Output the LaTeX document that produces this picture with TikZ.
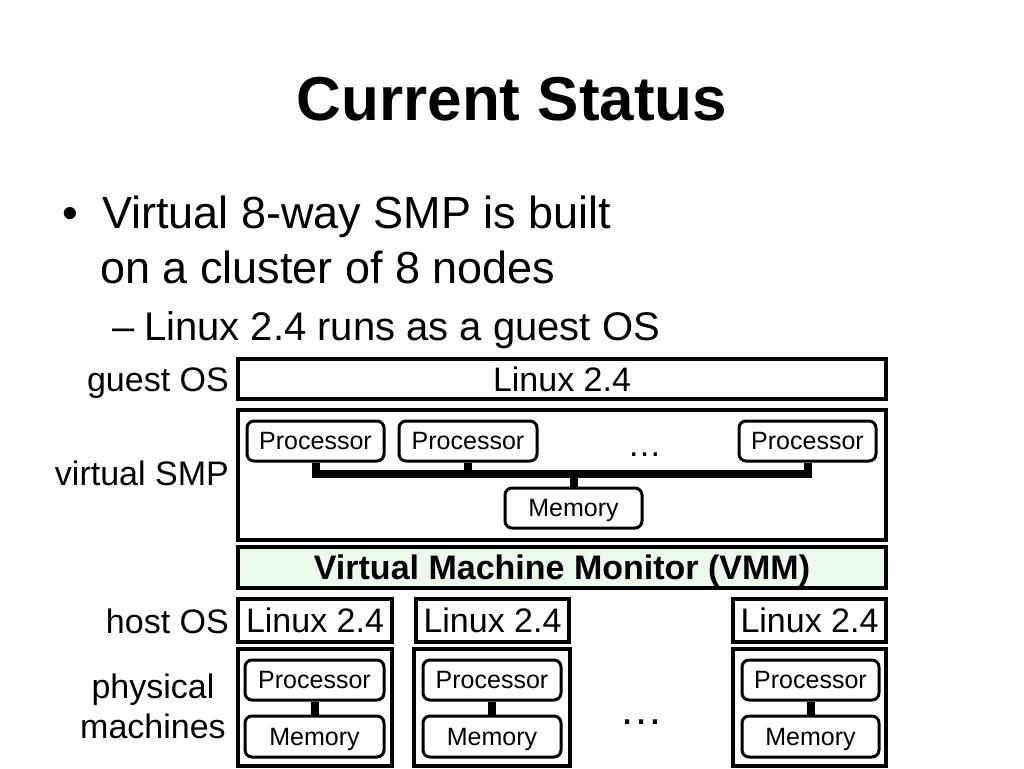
\documentclass[tikz,border=0pt]{standalone}
\usepackage{fontspec}
\setmainfont{Liberation Sans}
\definecolor{vmmgreen}{RGB}{236,250,236}
\begin{document}
\begin{tikzpicture}[x=1pt,y=-1pt,
  box/.style={draw=black, line width=3.5pt, inner sep=0pt, text height=24.3pt, text depth=0pt, font=\fontsize{34}{40}\selectfont},
  rbox/.style={draw=black, line width=3pt, rounded corners=7pt, inner sep=0pt, minimum height=40pt, text height=17.9pt, text depth=0pt, font=\fontsize{25}{30}\selectfont},
  bus/.style={line width=8pt, line cap=butt, line join=miter},
  side/.style={anchor=base east, inner sep=0pt, font=\fontsize{34}{40}\selectfont},
  sidec/.style={anchor=base, inner sep=0pt, font=\fontsize{34}{40}\selectfont},
  body/.style={anchor=base west, inner sep=0pt, font=\fontsize{45}{54}\selectfont},
  sub/.style={anchor=base west, inner sep=0pt, font=\fontsize{40}{48}\selectfont}
]
\fill[white] (0,0) rectangle (1024,768);
\useasboundingbox (0,0) rectangle (1024,768);

% title and bullets
\node[anchor=base, inner sep=0pt, font=\bfseries\fontsize{62}{70}\selectfont] (title) at (512,120) {Current Status};
\node[body] (bul) at (62,228) {•};
\node[body] (l1) at (102,228) {Virtual 8-way SMP is built};
\node[body] (l2) at (100,283) {on a cluster of 8 nodes};
\node[sub] (dash) at (112,340) {–};
\node[sub] (l3) at (144,340) {Linux 2.4 runs as a guest OS};

% side labels
\node[side] (lguest) at (229,391) {guest OS};
\node[side] (lsmp) at (229,485) {virtual SMP};
\node[side] (lhost) at (229,633) {host OS};
\node[sidec] (lphys1) at (153,698) {physical};
\node[sidec] (lphys2) at (153,738) {machines};

% guest OS
\node[box, minimum width=648, minimum height=40] (guest) at (562,379) {Linux 2.4};

% virtual SMP
\node[box, minimum width=648, minimum height=130] (smp) at (562,475) {};
\node[rbox, minimum width=137] (sp1) at (315.5,441) {Processor};
\node[rbox, minimum width=138] (sp2) at (468,441) {Processor};
\node[rbox, minimum width=137] (sp3) at (807.5,441) {Processor};
\node[rbox, minimum width=137] (smem) at (573.5,508) {Memory};
\node[anchor=base, inner sep=0pt, font=\fontsize{34}{40}\selectfont] (sdots) at (644.5,456) {…};
\coordinate (busy) at (0,474);
\draw[bus] (sp1.south) -- (sp1.south |- busy) -- (sp3.south |- busy) -- (sp3.south);
\draw[bus] (sp2.south) -- (sp2.south |- busy);
\draw[bus] (smem.north) -- (smem.north |- busy);

% VMM
\node[box, fill=vmmgreen, minimum width=648, minimum height=41, font=\bfseries\fontsize{34}{40}\selectfont] (vmm) at (562,567.5) {Virtual Machine Monitor (VMM)};

% host OS
\node[box, minimum width=154, minimum height=43] (h1) at (315,620.5) {Linux 2.4};
\node[box, minimum width=153, minimum height=43] (h2) at (492.5,620.5) {Linux 2.4};
\node[box, minimum width=153, minimum height=43] (h3) at (809.5,620.5) {Linux 2.4};

% physical machines
\node[box, minimum width=154, minimum height=117] (ph1) at (315,707.5) {};
\node[box, minimum width=156, minimum height=117] (ph2) at (492,707.5) {};
\node[box, minimum width=153, minimum height=117] (ph3) at (809.5,707.5) {};
\node[rbox, minimum width=139] (pp1) at (314.5,680) {Processor};
\node[rbox, minimum width=139, minimum height=41] (pm1) at (314.5,736.5) {Memory};
\node[rbox, minimum width=138] (pp2) at (492,680) {Processor};
\node[rbox, minimum width=138, minimum height=41] (pm2) at (492,736.5) {Memory};
\node[rbox, minimum width=137] (pp3) at (810.5,680) {Processor};
\node[rbox, minimum width=137, minimum height=41] (pm3) at (810.5,736.5) {Memory};
\draw[bus] (pp1.south) -- (pm1.north);
\draw[bus] (pp2.south) -- (pm2.north);
\draw[bus] (pp3.south) -- (pm3.north);
\node[anchor=base, inner sep=0pt, font=\fontsize{44}{50}\selectfont] (pdots) at (641,724) {…};
\end{tikzpicture}
\end{document}
